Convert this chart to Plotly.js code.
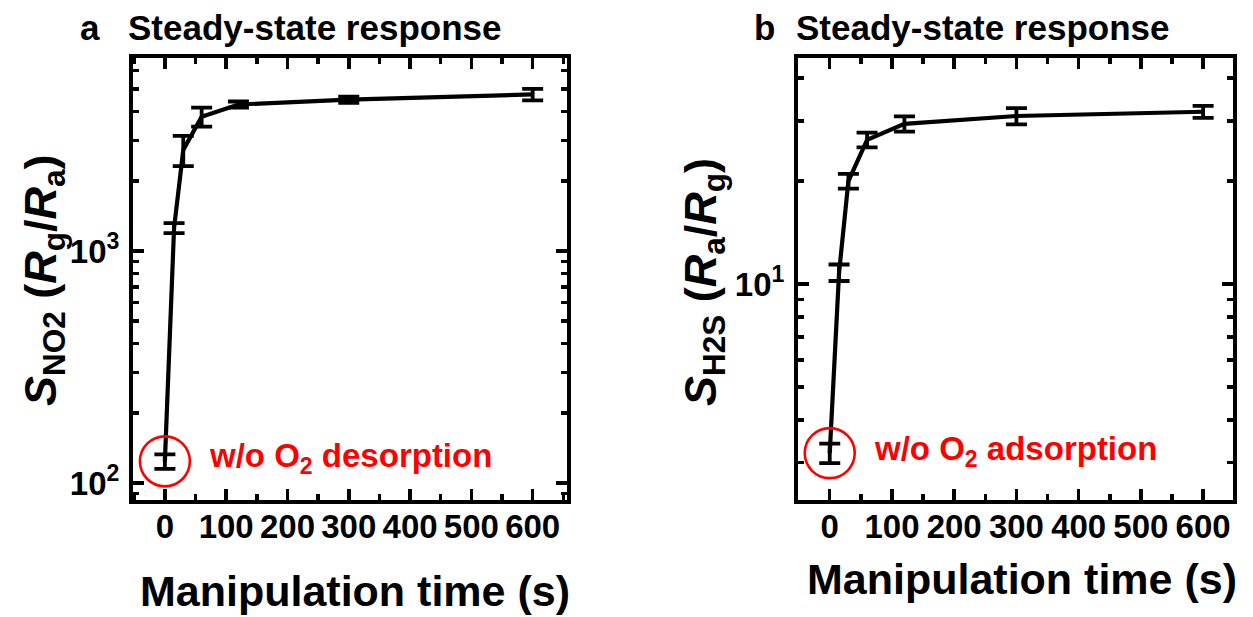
<!DOCTYPE html>
<html>
<head>
<meta charset="utf-8">
<script src="https://cdn.plot.ly/plotly-3.0.1.min.js"></script>
<style>html,body{margin:0;padding:0;background:#fff;}#chart{width:1253px;height:617px;}</style>
</head>
<body>
<div id="chart"></div>
<script>
// ---- data ----
const timeS = [0, 15, 30, 60, 120, 300, 600];
const sNO2 = [124, 1256, 2727, 3793, 4280, 4490, 4728];
const sNO2Err = [9, 62, 405, 357, 130, 140, 270];
const sH2S = [3.2, 10.8, 20.0, 26.4, 29.4, 31.0, 31.9];
const sH2SErr = [0.21, 0.6, 1.0, 1.3, 1.5, 1.7, 1.3];
const xTickVals = [0, 100, 200, 300, 400, 500, 600];
const yTickValsA = [100, 1000];
const yTickTextA = ['10<sup>2</sup>', '10<sup>3</sup>'];
const yTickValsB = [10];
const yTickTextB = ['10<sup>1</sup>'];
const panelTitle = 'Steady-state response';
const xTitle = 'Manipulation time (s)';
const yTitleA = '<i>S</i><sub>NO2</sub> (<i>R</i><sub>g</sub>/<i>R</i><sub>a</sub>)';
const yTitleB = '<i>S</i><sub>H2S</sub> (<i>R</i><sub>a</sub>/<i>R</i><sub>g</sub>)';
const noteA = 'w/o O<sub>2</sub> desorption';
const noteB = 'w/o O<sub>2</sub> adsorption';

// minor tick values for log axes (digits 2..9 of each decade)
function logMinor(lo, hi) {
  const v = [];
  for (let e = lo; e <= hi; e++) for (let d = 2; d <= 9; d++) v.push(d * Math.pow(10, e));
  return v;
}

const FONT = 'Liberation Sans, Arial, Helvetica, sans-serif';
const W = 1253, H = 617;

function trace(y, err, xa, ya) {
  return {
    x: timeS, y: y, xaxis: xa, yaxis: ya, type: 'scatter', mode: 'lines',
    line: {color: '#000', width: 4.2},
    error_y: {type: 'data', array: err, visible: true, color: '#000', thickness: 3.8, width: 10.5},
    hoverinfo: 'skip'
  };
}
// red open circle highlighting the first point
function ring(y, xa, ya) {
  return {
    x: [timeS[0]], y: [y[0]], xaxis: xa, yaxis: ya, type: 'scatter', mode: 'markers',
    marker: {symbol: 'circle-open', size: 50, color: '#ff0000', line: {color: '#ff0000', width: 2.6}},
    hoverinfo: 'skip'
  };
}

function xAxis(dom, range, anchor) {
  return {
    domain: dom, range: range, anchor: anchor,
    tickmode: 'array', tickvals: xTickVals,
    ticks: 'inside', ticklen: 11, tickwidth: 3.5, tickcolor: '#000',
    minor: {dtick: 50, tick0: 0, ticks: 'inside', ticklen: 6, tickwidth: 3.5, tickcolor: '#000'},
    showline: true, linewidth: 4, linecolor: '#000', mirror: 'allticks',
    showgrid: false, zeroline: false,
    tickfont: {family: FONT, size: 33, color: '#000', weight: 'bold'},
    ticklabelstandoff: -6
  };
}
function yAxis(dom, range, anchor, tv, tt, minorVals) {
  return {
    domain: dom, range: range, anchor: anchor, type: 'log',
    tickmode: 'array', tickvals: tv, ticktext: tt,
    ticks: 'inside', ticklen: 11, tickwidth: 3.5, tickcolor: '#000',
    minor: {tickmode: 'array', tickvals: minorVals, ticks: 'inside', ticklen: 6, tickwidth: 3.5, tickcolor: '#000'},
    showline: true, linewidth: 4, linecolor: '#000', mirror: 'allticks',
    showgrid: false, zeroline: false,
    tickfont: {family: FONT, size: 33, color: '#000', weight: 'bold'},
    ticklabelstandoff: 3
  };
}

const yDom = [1 - 500 / H, 1 - 58 / H];
const T = (txt) => '<b>' + txt + '</b>';
function label(x, y, text, size, extra) {
  return Object.assign({xref: 'paper', yref: 'paper', x: x / W, y: 1 - y / H, text: text, showarrow: false,
    xanchor: 'center', yanchor: 'middle', font: {family: FONT, size: size, color: '#000'}}, extra || {});
}

const layout = {
  width: W, height: H, margin: {l: 0, r: 0, t: 0, b: 0},
  paper_bgcolor: '#fff', plot_bgcolor: '#fff', showlegend: false,
  xaxis: xAxis([133 / W, 567 / W], [-52, 656], 'y'),
  yaxis: yAxis(yDom, [Math.log10(84.5), Math.log10(6790)], 'x', yTickValsA, yTickTextA, logMinor(1, 3)),
  xaxis2: xAxis([798 / W, 1233 / W], [-51, 648], 'y2'),
  yaxis2: yAxis(yDom, [0.368, 1.661], 'x2', yTickValsB, yTickTextB, logMinor(0, 1)),
  annotations: [
    label(90, 28, T('a'), 35),
    label(126, 28, T(panelTitle), 35, {xanchor: 'left'}),
    label(764, 28, T('b'), 35),
    label(794, 28, T(panelTitle), 35, {xanchor: 'left'}),
    label(355, 591, T(xTitle), 43),
    label(1022, 579, T(xTitle), 43),
    label(43, 280, T(yTitleA), 45, {textangle: -90}),
    label(703, 282, T(yTitleB), 45, {textangle: -90}),
    {xref: 'x', yref: 'y', x: timeS[0], y: Math.log10(sNO2[0]), text: T(noteA), showarrow: false,
     xanchor: 'left', yanchor: 'middle', xshift: 42, yshift: 3, font: {family: FONT, size: 33, color: '#ff0000'}},
    {xref: 'x2', yref: 'y2', x: timeS[0], y: Math.log10(sH2S[0]), text: T(noteB), showarrow: false,
     xanchor: 'left', yanchor: 'middle', xshift: 42, yshift: 2, font: {family: FONT, size: 33, color: '#ff0000'}}
  ]
};

Plotly.newPlot('chart', [
  trace(sNO2, sNO2Err, 'x', 'y'), ring(sNO2, 'x', 'y'),
  trace(sH2S, sH2SErr, 'x2', 'y2'), ring(sH2S, 'x2', 'y2')
], layout, {staticPlot: true, displayModeBar: false});
</script>
</body>
</html>
